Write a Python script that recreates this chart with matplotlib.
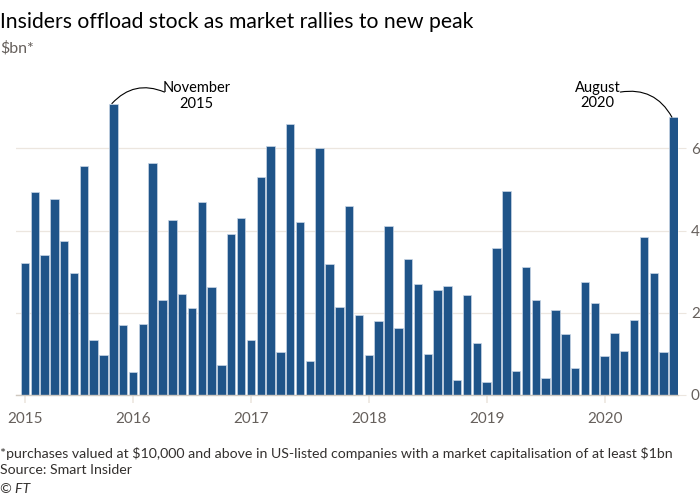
#!/usr/bin/env python3
"""Insider share sales by month, FT style bar chart."""

import matplotlib

matplotlib.use("Agg")
import matplotlib.pyplot as plt

plt.rcParams["font.family"] = ["Lato", "DejaVu Sans"]

# monthly values, Feb 2015 .. Aug 2020 ($bn)
VALUES = [
    3.20, 4.94, 3.41, 4.77, 3.75, 2.96, 5.57, 1.35, 0.97, 7.09, 1.70,           # 2015
    0.55, 1.72, 5.64, 2.31, 4.25, 2.45, 2.12, 4.69, 2.63, 0.72, 3.92, 4.31,     # 2016
    1.35, 5.30, 6.05, 1.05, 6.60, 4.21, 0.83, 6.00, 3.19, 2.15, 4.59, 1.95,     # 2017
    0.97, 1.80, 4.10, 1.62, 3.30, 2.69, 0.99, 2.56, 2.65, 0.36, 2.43, 1.26,     # 2018
    0.32, 3.57, 4.96, 0.59, 3.11, 2.30, 0.42, 2.07, 1.48, 0.66, 2.74, 2.23,     # 2019
    0.95, 1.50, 1.06, 1.82, 3.85, 2.96, 1.04, 6.76,                             # 2020
]
YEAR_LABELS = ["2015", "2016", "2017", "2018", "2019", "2020"]
YEAR_POS = [0, 11, 23, 35, 47, 59]  # index of first bar of each year label
Y_TICKS = [0, 2, 4, 6]
NOV_2015 = 9
AUG_2020 = 66

BAR_COLOR = "#1f5489"
GRID = "#ece6df"
TEXT = "#33302e"
GREY = "#66605c"


def callout(ax, label, text_xy, line_start, idx, rad):
    ax.text(*text_xy, label, ha="center", va="center", fontsize=10.5, color="#000000",
            linespacing=1.15)
    ax.annotate("", xy=(idx - 0.15, VALUES[idx]), xytext=line_start,
                arrowprops=dict(arrowstyle="-", color="#000000", lw=0.8,
                                connectionstyle=f"arc3,rad={rad}", shrinkA=0, shrinkB=0),
                annotation_clip=False)


def main() -> None:
    fig = plt.figure(figsize=(7, 5), dpi=100)
    ax = fig.add_axes([0.023, 0.21, 0.946, 0.633])

    x = list(range(len(VALUES)))
    ax.bar(x, VALUES, width=0.86, color=BAR_COLOR, edgecolor="#c9d6e6", linewidth=0.5, zorder=2)

    ax.set_xlim(-0.9, len(VALUES) - 0.5)
    ax.set_ylim(0, 7.7)
    ax.yaxis.tick_right()
    ax.set_yticks(Y_TICKS)
    ax.set_yticklabels([str(t) for t in Y_TICKS])
    ax.set_xticks(YEAR_POS)
    ax.set_xticklabels(YEAR_LABELS)
    ax.tick_params(axis="y", length=6, color=GRID, labelcolor=GREY, labelsize=11, pad=3)
    ax.tick_params(axis="x", length=6, width=1.2, color=GRID, labelcolor=GREY, labelsize=11, pad=6)
    ax.grid(axis="y", color=GRID, lw=0.9, zorder=0)
    for s in ["top", "left", "right"]:
        ax.spines[s].set_visible(False)
    ax.spines["bottom"].set_color("#cfc8c0")
    ax.spines["bottom"].set_linewidth(1.0)

    # callouts for the two peaks
    callout(ax, "November\n2015", (17.5, 7.27), (14.2, 7.37), NOV_2015, 0.35)
    callout(ax, "August\n2020", (58.3, 7.29), (60.6, 7.37), AUG_2020, -0.35)

    fig.text(0.0, 0.955, "Insiders offload stock as market rallies to new peak",
             fontsize=15.2, color="#000000", va="center")
    fig.text(0.0, 0.903, "$bn*", fontsize=11.5, color=GREY, va="center")
    fig.text(0.0, 0.094,
             r"*purchases valued at \$10,000 and above in US-listed companies with a market capitalisation of at least \$1bn",
             fontsize=10.2, color=TEXT, va="center")
    fig.text(0.0, 0.06, "Source: Smart Insider", fontsize=10.2, color=TEXT, va="center")
    fig.text(0.0, 0.022, "© FT", fontsize=10.2, color=TEXT, va="center", style="italic")

    fig.savefig("out.png", dpi=100, facecolor="white")
    plt.close(fig)


if __name__ == "__main__":
    main()
